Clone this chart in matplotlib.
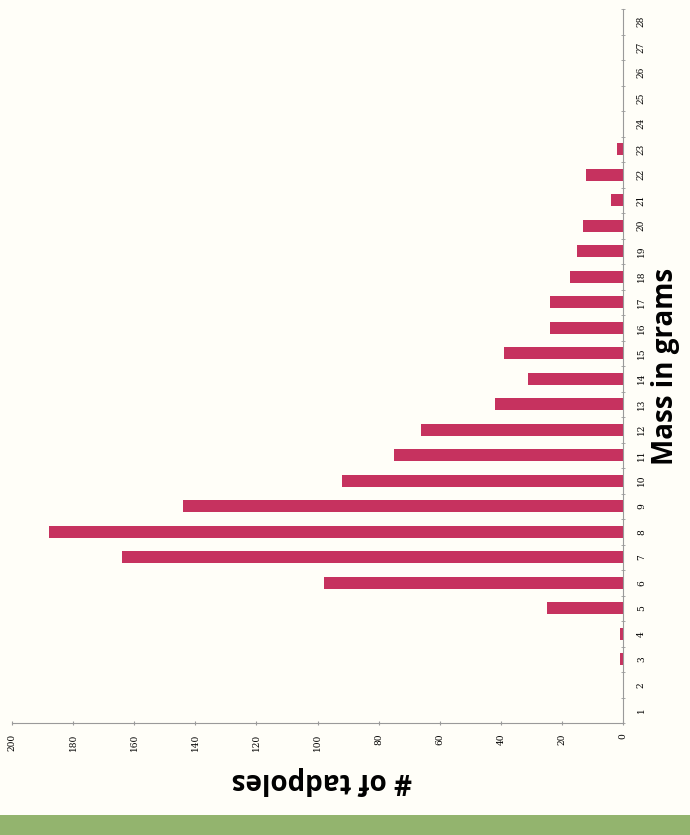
import matplotlib.pyplot as plt
from matplotlib.patches import Rectangle

mass = list(range(1, 29))
tadpoles = [0, 0, 1, 1, 25, 98, 164, 188, 144, 92, 75, 66, 42, 31, 39,
            24, 24, 17.5, 15, 13, 4, 12, 2, 0, 0, 0, 0, 0]
count_ticks = list(range(0, 201, 20))

bar_color = '#C6325F'
bg = '#FFFEF8'

fig = plt.figure(figsize=(6.9, 8.35), dpi=100, facecolor=bg)
# chart is drawn turned on its side: counts grow to the left, mass runs upward
ax = fig.add_axes([12 / 690, 112 / 835, 611 / 690, 714 / 835])
ax.set_facecolor(bg)
ax.barh(mass, tadpoles, height=0.48, color=bar_color)

ax.set_xlim(200, 0)
ax.set_ylim(0.5, 28.5)

for side in ('top', 'left'):
    ax.spines[side].set_visible(False)
for side in ('bottom', 'right'):
    ax.spines[side].set_color('#9a9a9a')
    ax.spines[side].set_linewidth(0.8)

ax.yaxis.tick_right()
ax.set_yticks(mass)
ax.set_yticklabels([str(m) for m in mass], rotation=90, va='center',
                   fontsize=6.5, family='DejaVu Serif')
ax.set_yticks([m + 0.5 for m in range(0, 29)], minor=True)
ax.tick_params(axis='y', which='major', length=0, pad=10)
ax.tick_params(axis='y', which='minor', length=3, direction='inout',
               color='#9a9a9a')

ax.set_xticks(count_ticks)
ax.set_xticklabels([str(c) for c in count_ticks], rotation=90,
                   fontsize=6.5, family='DejaVu Serif')
ax.tick_params(axis='x', length=3, direction='inout', color='#9a9a9a', pad=6)

fig.text(665 / 690, 1 - 366 / 835, 'Mass in grams', rotation=90,
         ha='center', va='center', fontsize=20, fontweight='bold',
         family='Open Sans')
fig.text(322 / 690, 1 - 780 / 835, '# of tadpoles', rotation=180,
         ha='center', va='center', fontsize=20, fontweight='bold',
         family='Open Sans')

# green strip along the lower edge
fig.add_artist(Rectangle((0, 0), 1, 20 / 835, transform=fig.transFigure,
                         facecolor='#93B46E', edgecolor='none'))

fig.savefig('out.png', dpi=100, facecolor=bg)
